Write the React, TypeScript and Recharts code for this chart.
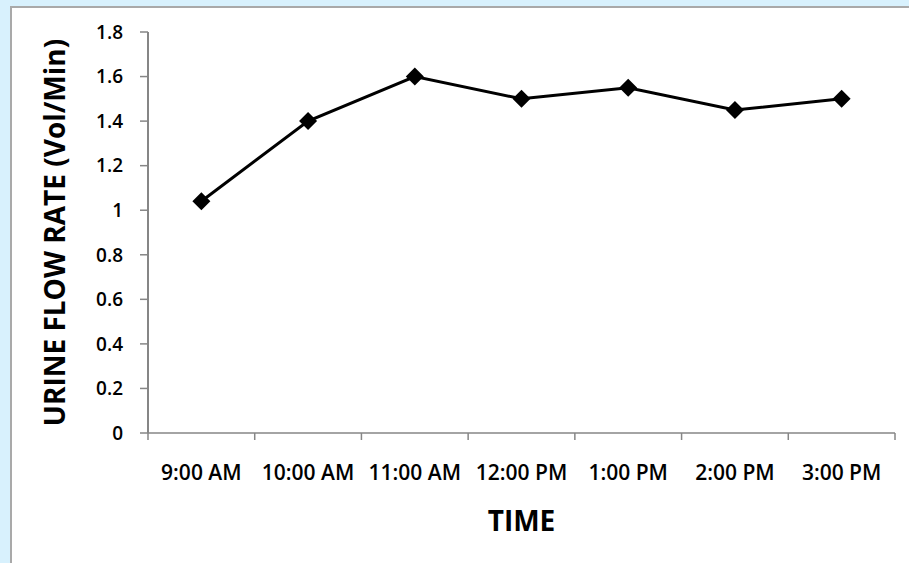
import { LineChart, Line, XAxis, YAxis, Label } from "recharts";

const times = ["9:00 AM", "10:00 AM", "11:00 AM", "12:00 PM", "1:00 PM", "2:00 PM", "3:00 PM"];
const flowRates = [1.04, 1.4, 1.6, 1.5, 1.55, 1.45, 1.5];
const rateTicks = [0, 0.2, 0.4, 0.6, 0.8, 1, 1.2, 1.4, 1.6, 1.8];

// category edges, used only for the tick marks between time slots
const slotEdges = times.map((_, i) => i).concat(times.length);

const data = times.map((time, i) => ({ time, slot: i, rate: flowRates[i] }));

const FONT = "'Open Sans', sans-serif";
const AXIS_GRAY = "#868686";
const axisStroke = { stroke: AXIS_GRAY, strokeWidth: 1.5 };

function Diamond(props: any) {
  const { cx, cy } = props;
  if (cx == null || cy == null) return null;
  const r = 9;
  return (
    <path
      d={`M${cx},${cy - r}L${cx + r},${cy}L${cx},${cy + r}L${cx - r},${cy}Z`}
      fill="#000"
    />
  );
}

export default function App() {
  return (
    <div
      style={{
        position: "absolute",
        left: 0,
        top: 0,
        width: 909,
        height: 563,
        overflow: "hidden",
        background: "#d8f1fd",
      }}
    >
      <div
        style={{
          position: "absolute",
          left: 10,
          top: 6,
          width: 920,
          height: 580,
          background: "#fff",
          border: "2px solid #a9a9a9",
        }}
      />
      <div style={{ position: "absolute", left: 0, top: 0 }}>
        <LineChart
          width={909}
          height={563}
          data={data}
          margin={{ top: 32, right: 14, bottom: 0, left: 0 }}
        >
          <XAxis
            xAxisId="edges"
            dataKey="slot"
            type="number"
            domain={[0, times.length]}
            allowDataOverflow
            ticks={slotEdges}
            tickFormatter={() => ""}
            tickSize={7}
            height={1}
            axisLine={axisStroke}
            tickLine={axisStroke}
          />
          <XAxis
            xAxisId="time"
            dataKey="time"
            scale="band"
            interval={0}
            axisLine={false}
            tickLine={false}
            tickSize={0}
            tickMargin={31}
            height={129}
            tick={{ fill: "#000", fontSize: 21, fontWeight: 600, fontFamily: FONT }}
          >
            <Label
              value="TIME"
              position="center"
              dy={23}
              fill="#000"
              fontSize={28}
              fontWeight={700}
              fontFamily={FONT}
            />
          </XAxis>
          <YAxis
            domain={[0, 1.8]}
            ticks={rateTicks}
            interval={0}
            width={148}
            tickSize={8}
            tickMargin={17}
            axisLine={{ stroke: AXIS_GRAY, strokeWidth: 2 }}
            tickLine={axisStroke}
            tick={{ fill: "#000", fontSize: 19, fontWeight: 600, fontFamily: FONT }}
          >
            <Label
              value="URINE FLOW RATE (Vol/Min)"
              angle={-90}
              position="center"
              dx={-19}
              fill="#000"
              fontSize={28}
              fontWeight={700}
              fontFamily={FONT}
            />
          </YAxis>
          <Line
            xAxisId="time"
            dataKey="rate"
            stroke="#000"
            strokeWidth={3}
            dot={<Diamond />}
            activeDot={false}
            isAnimationActive={false}
          />
        </LineChart>
      </div>
    </div>
  );
}
